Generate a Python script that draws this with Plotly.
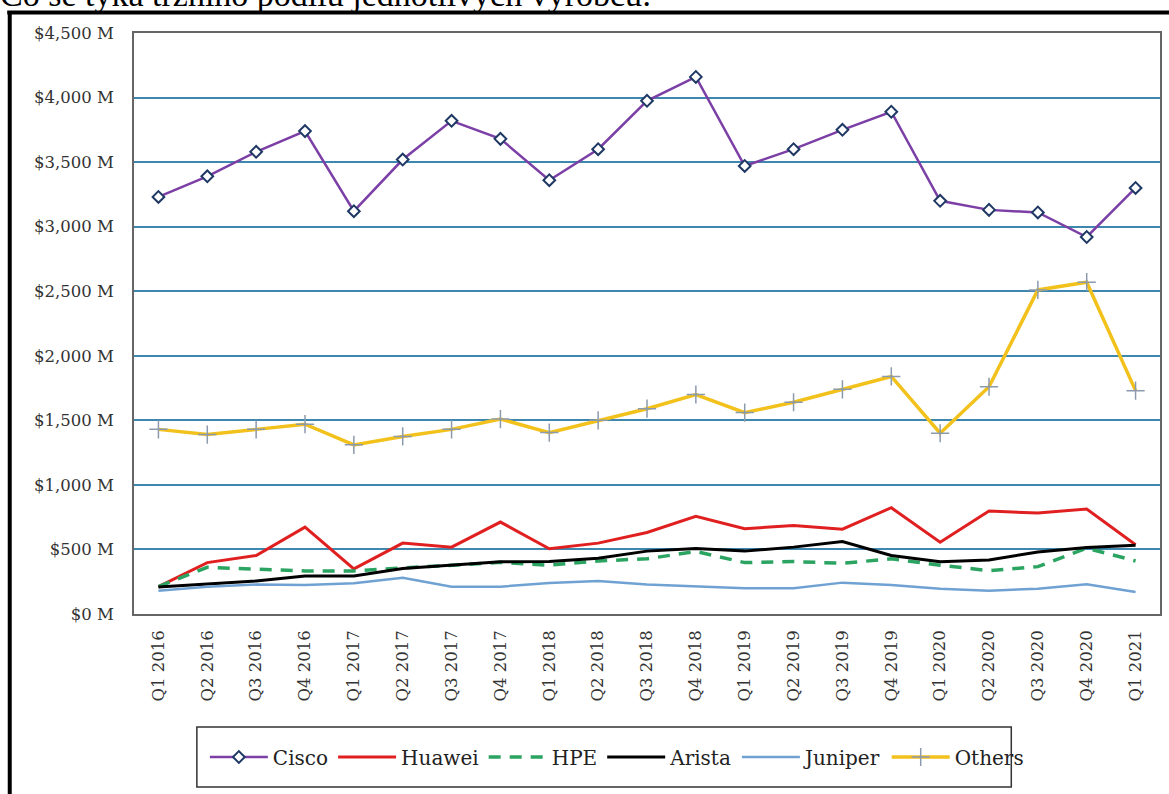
import plotly.graph_objects as go

quarters = ["Q1 2016", "Q2 2016", "Q3 2016", "Q4 2016",
            "Q1 2017", "Q2 2017", "Q3 2017", "Q4 2017",
            "Q1 2018", "Q2 2018", "Q3 2018", "Q4 2018",
            "Q1 2019", "Q2 2019", "Q3 2019", "Q4 2019",
            "Q1 2020", "Q2 2020", "Q3 2020", "Q4 2020",
            "Q1 2021"]

cisco = [3230, 3390, 3580, 3740, 3120, 3520, 3820, 3680, 3360, 3600, 3975,
         4160, 3470, 3600, 3750, 3890, 3200, 3130, 3110, 2920, 3300]
huawei = [212, 398, 453, 673, 349, 549, 518, 712, 505, 549, 631,
          756, 660, 686, 657, 823, 556, 797, 782, 813, 536]
hpe = [212, 362, 347, 334, 334, 355, 378, 400, 378, 411, 428,
       484, 398, 406, 393, 427, 378, 336, 367, 510, 411]
arista = [210, 233, 256, 295, 295, 352, 378, 404, 407, 432, 487,
          507, 487, 518, 562, 453, 404, 419, 481, 515, 533]
juniper = [181, 212, 228, 225, 238, 280, 212, 212, 241, 256, 228,
           212, 199, 199, 243, 225, 196, 181, 196, 231, 171]
others = [1430, 1390, 1430, 1470, 1310, 1375, 1430, 1510, 1405, 1500, 1590,
          1700, 1560, 1640, 1740, 1840, 1400, 1760, 2510, 2570, 1730]

y_ticks = [0, 500, 1000, 1500, 2000, 2500, 3000, 3500, 4000, 4500]
y_labels = ["$" + format(v, ",") + " M" for v in y_ticks]
heading = "Co se týká tržního podílu jednotlivých výrobců:"

W, H = 1169, 794
L, R, T, B = 134, 1162, 33, 614

FONT = "DejaVu Serif"
HEAD_FONT = "Liberation Serif"

fig = go.Figure()

fig.add_trace(go.Scatter(
    x=quarters, y=cisco, name="Cisco", mode="lines+markers",
    line=dict(color="#7B3FA6", width=2.5),
    marker=dict(symbol="diamond", size=9, color="white",
                line=dict(color="#1F3864", width=2)),
))
fig.add_trace(go.Scatter(
    x=quarters, y=huawei, name="Huawei", mode="lines",
    line=dict(color="#E02020", width=3),
))
fig.add_trace(go.Scatter(
    x=quarters, y=hpe, name="HPE", mode="lines",
    line=dict(color="#2BA462", width=3.5, dash="12px,9px"),
))
fig.add_trace(go.Scatter(
    x=quarters, y=arista, name="Arista", mode="lines",
    line=dict(color="#000000", width=3),
))
fig.add_trace(go.Scatter(
    x=quarters, y=juniper, name="Juniper", mode="lines",
    line=dict(color="#6FA2D3", width=2.5),
))
fig.add_trace(go.Scatter(
    x=quarters, y=others, name="Others", mode="lines+markers",
    line=dict(color="#F2C11C", width=3.5),
    marker=dict(symbol="cross-thin", size=13, color="#8C9AAE",
                line=dict(color="#8C9AAE", width=1.5)),
))

def px_x(p):
    return (p - L) / (R - L)

def px_y(p):
    return (B - p) / (B - T)

shapes = [
    # legend box
    dict(type="rect", xref="paper", yref="paper",
         x0=px_x(197), x1=px_x(1013), y0=px_y(787), y1=px_y(727),
         line=dict(color="#333333", width=1.5), fillcolor="rgba(0,0,0,0)"),
    # outer frame top and left
    dict(type="line", xref="paper", yref="paper",
         x0=px_x(7), x1=px_x(1175), y0=px_y(12.5), y1=px_y(12.5),
         line=dict(color="#000000", width=4)),
    dict(type="line", xref="paper", yref="paper",
         x0=px_x(9.5), x1=px_x(9.5), y0=px_y(11), y1=px_y(800),
         line=dict(color="#000000", width=4)),
]

fig.update_layout(
    width=W, height=H,
    margin=dict(l=L, r=W - R, t=T, b=H - B),
    paper_bgcolor="white", plot_bgcolor="white",
    font=dict(family=FONT, color="#333333"),
    showlegend=True,
    legend=dict(orientation="h", x=px_x(205), xanchor="left",
                y=px_y(757), yanchor="middle",
                font=dict(family=FONT, size=20, color="#222222"),
                bgcolor="rgba(0,0,0,0)", borderwidth=0,
                itemwidth=58, tracegroupgap=0),
    shapes=shapes,
    annotations=[dict(text=heading, xref="paper", yref="paper",
                      x=px_x(-2), xanchor="left", y=px_y(15), yanchor="bottom",
                      showarrow=False,
                      font=dict(family=HEAD_FONT, size=34, color="#000000"))],
    xaxis=dict(
        type="category", categoryorder="array", categoryarray=quarters,
        range=[-0.5, len(quarters) - 0.5],
        tickangle=-90, tickfont=dict(family=FONT, size=16.5, color="#333333"),
        showgrid=False, showline=True, linecolor="#666666", linewidth=1.5,
        mirror=True, ticks="", ticklabelstandoff=8,
    ),
    yaxis=dict(
        range=[0, 4500], tickmode="array", tickvals=y_ticks, ticktext=y_labels,
        tickfont=dict(family=FONT, size=16.5, color="#333333"),
        showgrid=True, gridcolor="#3E87AE", gridwidth=1.5,
        showline=True, linecolor="#666666", linewidth=1.5, mirror=True,
        zeroline=False, ticks="", ticklabelstandoff=15,
    ),
)

fig.write_html("out.html", config={"displayModeBar": False},
               post_script="document.body.style.margin='0';")
